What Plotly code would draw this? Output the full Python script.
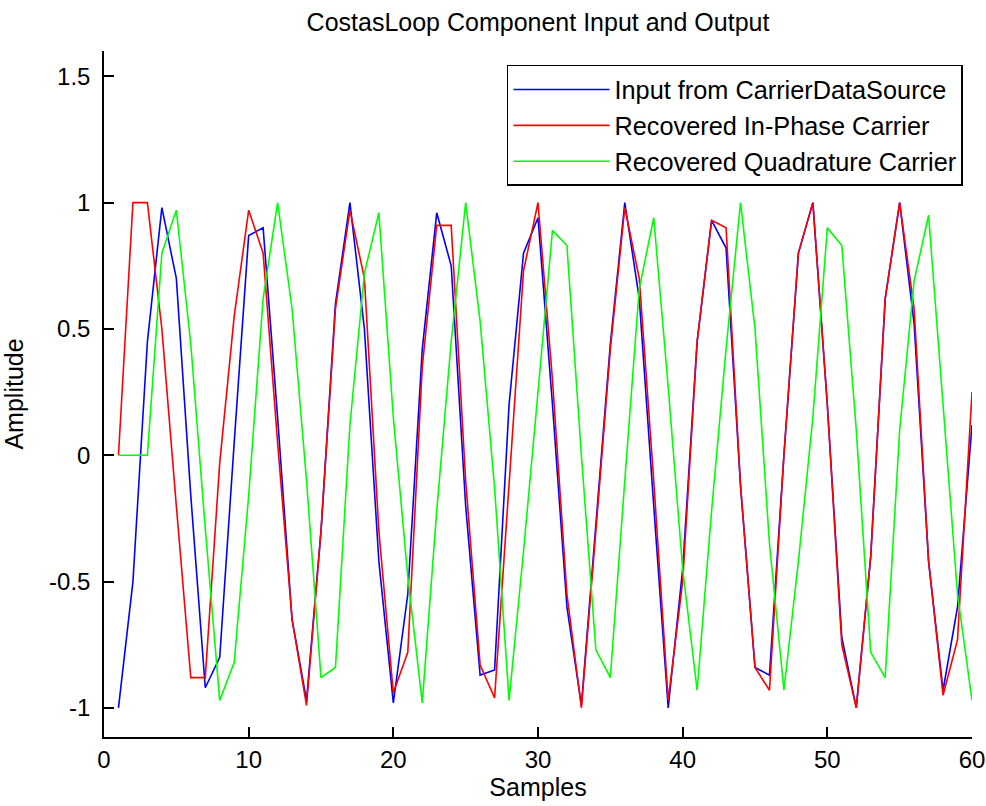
import plotly.graph_objects as go

samples = list(range(1, 61))

input_carrier = [
    -1.0, -0.5, 0.45, 0.98, 0.7, -0.16, -0.92, -0.8, 0.05, 0.87,
    0.9, 0.15, -0.65, -0.97, -0.3, 0.6, 1.0, 0.5, -0.42, -0.98,
    -0.55, 0.42, 0.96, 0.75, -0.2, -0.87, -0.85, 0.2, 0.8, 0.94,
    0.2, -0.6, -0.99, -0.28, 0.44, 1.0, 0.62, -0.2, -1.0, -0.45,
    0.45, 0.93, 0.82, -0.12, -0.84, -0.87, 0.0, 0.8, 1.0, 0.2,
    -0.72, -1.0, -0.4, 0.62, 1.0, 0.52, -0.42, -0.93, -0.6, 0.12,
]

in_phase = [
    0.0, 1.0, 1.0, 0.5, -0.2, -0.88, -0.88, -0.03, 0.55, 0.97,
    0.8, 0.05, -0.65, -0.99, -0.3, 0.58, 0.97, 0.7, -0.3, -0.94,
    -0.78, 0.35, 0.91, 0.91, -0.1, -0.83, -0.96, -0.1, 0.73, 1.0,
    0.3, -0.55, -1.0, -0.3, 0.42, 0.98, 0.7, -0.1, -0.97, -0.5,
    0.45, 0.93, 0.9, -0.12, -0.84, -0.93, 0.0, 0.8, 1.0, 0.2,
    -0.75, -1.0, -0.4, 0.62, 1.0, 0.58, -0.42, -0.95, -0.73, 0.25,
]

quadrature = [
    0.0, 0.0, 0.0, 0.8, 0.97, 0.44, -0.29, -0.97, -0.82, -0.16,
    0.62, 1.0, 0.58, -0.1, -0.88, -0.84, 0.12, 0.72, 0.96, 0.15,
    -0.48, -0.98, -0.22, 0.45, 1.0, 0.53, -0.13, -0.97, -0.38, 0.25,
    0.89, 0.83, 0.0, -0.77, -0.88, -0.1, 0.66, 0.94, 0.27, -0.45,
    -0.93, -0.22, 0.42, 1.0, 0.5, -0.35, -0.93, -0.42, 0.15, 0.9,
    0.83, 0.1, -0.78, -0.88, 0.1, 0.69, 0.95, 0.2, -0.55, -0.97,
]

series_names = [
    "Input from CarrierDataSource",
    "Recovered In-Phase Carrier",
    "Recovered Quadrature Carrier",
]

x_ticks = [0, 10, 20, 30, 40, 50, 60]
x_ticktext = ["0", "10", "20", "30", "40", "50", "60"]
y_ticks = [-1, -0.5, 0, 0.5, 1, 1.5]
y_ticktext = ["-1", "-0.5", "0", "0.5", "1", "1.5"]

FONT = "Liberation Sans, Arial, sans-serif"

fig = go.Figure()
for name, ys, col in zip(series_names, [input_carrier, in_phase, quadrature],
                         ["#0000ff", "#ff0000", "#00ff00"]):
    fig.add_trace(go.Scatter(x=samples, y=ys, mode="lines", name=name,
                             line=dict(color=col, width=1.6)))

axis_common = dict(
    showgrid=False, zeroline=False, showline=True, linecolor="black",
    linewidth=1.5, ticks="inside", ticklen=10, tickwidth=1.5, tickcolor="black",
    tickfont=dict(family=FONT, size=24, color="black"), mirror=False,
    automargin=False,
)

fig.update_layout(
    width=986, height=806,
    margin=dict(l=104, r=14, t=51, b=69, autoexpand=False),
    paper_bgcolor="white", plot_bgcolor="white",
    font=dict(family=FONT, size=24, color="black"),
    title=dict(text="CostasLoop Component Input and Output", x=0.5,
               xref="paper", y=1 - 22 / 806, yref="container",
               xanchor="center", yanchor="middle",
               font=dict(family=FONT, size=25, color="black")),
    xaxis=dict(range=[0, 60], tickvals=x_ticks, ticktext=x_ticktext,
               title=dict(text="Samples", standoff=6,
                          font=dict(family=FONT, size=25, color="black")),
               **axis_common),
    yaxis=dict(range=[-1.115, 1.6], tickvals=y_ticks, ticktext=y_ticktext,
               ticklabelstandoff=7,
               title=dict(text="Amplitude", standoff=20,
                          font=dict(family=FONT, size=25, color="black")),
               **axis_common),
    legend=dict(x=0.9896, y=0.9796, xanchor="right", yanchor="top",
                bordercolor="black", borderwidth=1.5, bgcolor="white",
                font=dict(family=FONT, size=25.3, color="black"),
                itemwidth=96),
    showlegend=True,
)

# remove the default page margin so the figure fills the window exactly
fig.write_html("out.html",
               config={"displayModeBar": False},
               post_script="document.body.style.margin='0';document.body.style.overflow='hidden';")
